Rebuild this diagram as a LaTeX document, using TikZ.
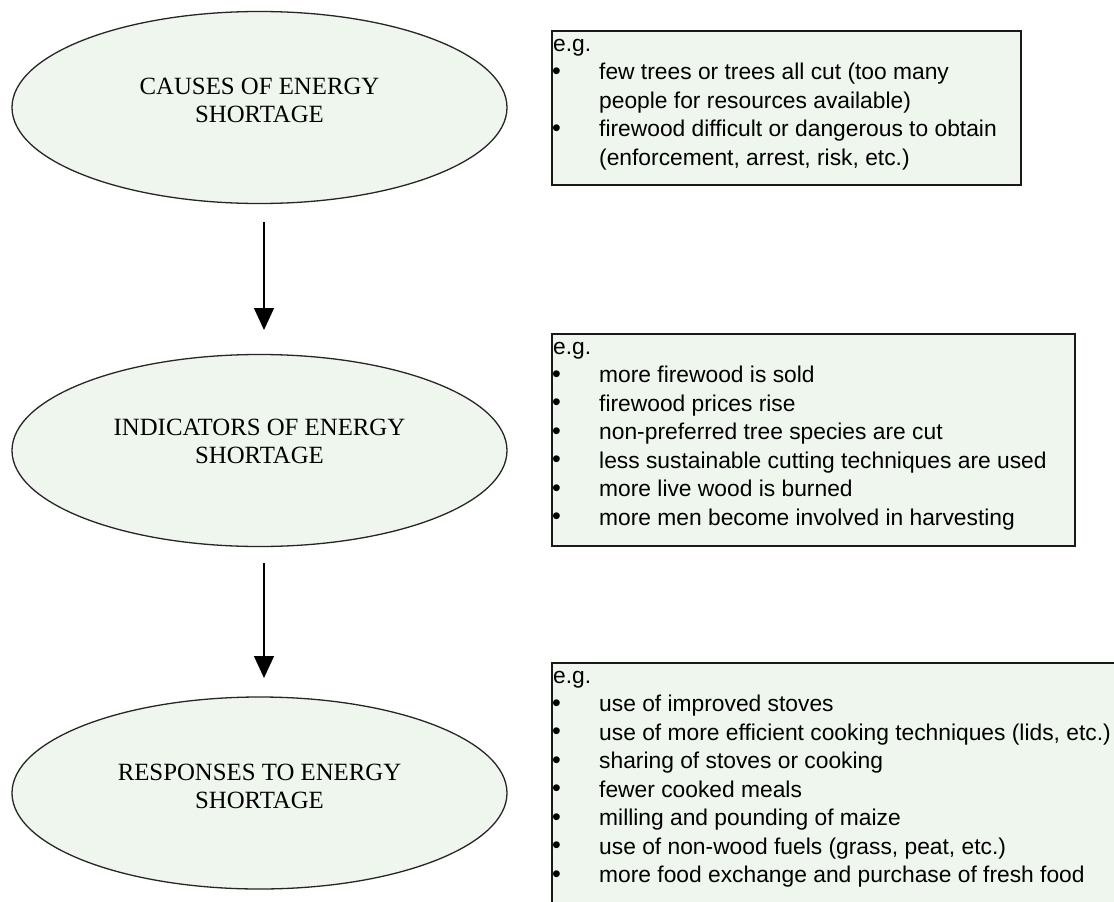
\documentclass[tikz,border=0pt]{standalone}
\usepackage{fontspec}
\setmainfont{Liberation Serif}
\newfontfamily\boxfont{Liberation Sans}
\usetikzlibrary{arrows.meta,shapes.geometric}
\definecolor{paleg}{RGB}{239,246,238}
\newcommand{\bul}{\hspace*{-1pt}\raisebox{0.5pt}{\fontsize{25}{25}\selectfont\textbullet}}
\begin{document}
\begin{tikzpicture}[x=1pt,y=-1pt,
  oval/.style={ellipse, draw=black!85, line width=1.3pt, fill=paleg, minimum width=495pt, minimum height=192pt, inner sep=0pt, outer sep=0pt},
  ovaltext/.style={align=center, font=\fontsize{24.8}{28}\selectfont, inner sep=0pt},
  infobox/.style={draw=black!90, line width=1.5pt, fill=paleg, anchor=north west, inner sep=0pt, outer sep=0pt},
  listtext/.style={anchor=north west, inner sep=0pt, font=\boxfont\fontsize{22.8}{28.5}\selectfont},
  arr/.style={line width=1.3pt, -{Triangle[width=20pt,length=22pt]}}]
\useasboundingbox (0,0) rectangle (1114,902);
\fill[white] (0,0) rectangle (1114,902);

% ellipses
\node[oval] (e1) at (259.5,107.5) {};
\node[oval] (e2) at (259.5,450.5) {};
\node[oval] (e3) at (259.5,793) {};
\node[ovaltext] (l1) at ([yshift=7pt]e1.center) {CAUSES OF ENERGY\\SHORTAGE};
\node[ovaltext] (l2) at ([yshift=9pt]e2.center) {INDICATORS OF ENERGY\\SHORTAGE};
\node[ovaltext] (l3) at ([yshift=7pt]e3.center) {RESPONSES TO ENERGY\\SHORTAGE};

% arrows
\draw[arr] ([xshift=4.5pt,yshift=-18.5pt]e1.south) -- ([xshift=4.5pt,yshift=24.5pt]e2.north);
\draw[arr] ([xshift=4.5pt,yshift=-16.5pt]e2.south) -- ([xshift=4.5pt,yshift=19pt]e3.north);

% boxes
\node[infobox, minimum width=469pt, minimum height=154pt] (b1) at (552,31) {};
\node[infobox, minimum width=523pt, minimum height=212pt] (b2) at (552,334) {};
\node[infobox, minimum width=600pt, minimum height=270pt] (b3) at (552,663) {};

\node[listtext] (t1) at ([xshift=1pt]b1.north west) {\begin{tabular}{@{}p{46pt}@{}l@{}}
\multicolumn{2}{@{}l@{}}{e.g.}\\
\bul & few trees or trees all cut (too many\\
 & people for resources available)\\
\bul & firewood difficult or dangerous to obtain\\
 & (enforcement, arrest, risk, etc.)
\end{tabular}};

\node[listtext] (t2) at ([xshift=1pt]b2.north west) {\begin{tabular}{@{}p{46pt}@{}l@{}}
\multicolumn{2}{@{}l@{}}{e.g.}\\
\bul & more firewood is sold\\
\bul & firewood prices rise\\
\bul & non-preferred tree species are cut\\
\bul & less sustainable cutting techniques are used\\
\bul & more live wood is burned\\
\bul & more men become involved in harvesting
\end{tabular}};

\node[listtext] (t3) at ([xshift=1pt]b3.north west) {\begin{tabular}{@{}p{46pt}@{}l@{}}
\multicolumn{2}{@{}l@{}}{e.g.}\\
\bul & use of improved stoves\\
\bul & use of more efficient cooking techniques (lids, etc.)\\
\bul & sharing of stoves or cooking\\
\bul & fewer cooked meals\\
\bul & milling and pounding of maize\\
\bul & use of non-wood fuels (grass, peat, etc.)\\
\bul & more food exchange and purchase of fresh food
\end{tabular}};
\end{tikzpicture}
\end{document}
